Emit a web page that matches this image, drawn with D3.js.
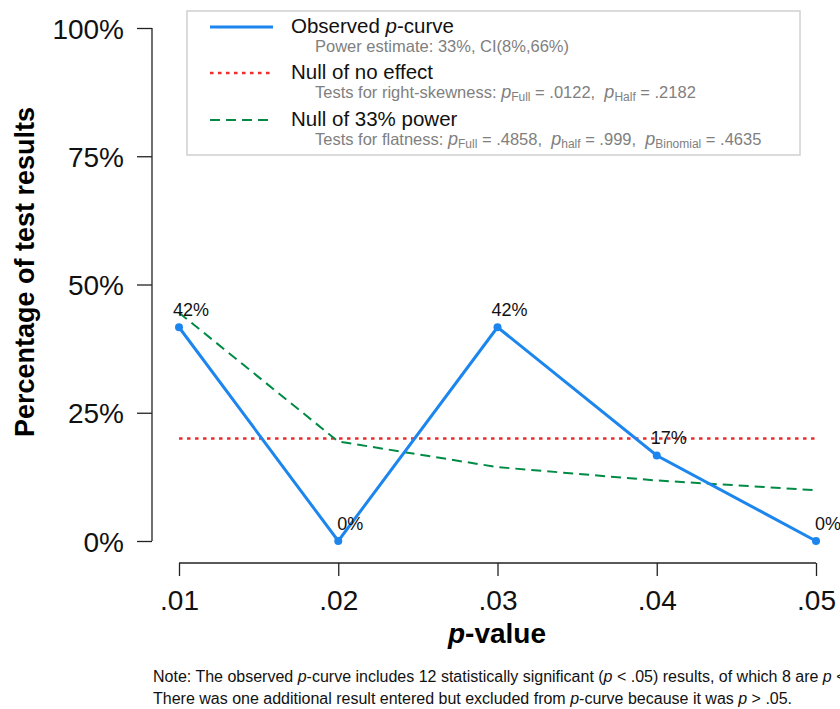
<!DOCTYPE html>
<html>
<head>
<meta charset="utf-8">
<script src="https://cdn.jsdelivr.net/npm/d3@7"></script>
<style>
  body { margin: 0; background: #fff; overflow: hidden; }
  text { font-family: "Liberation Sans", Arial, Helvetica, sans-serif; white-space: pre; }
</style>
</head>
<body>
<div id="chart"></div>
<script>
const width = 840;
const height = 709;

// data
const pValues = [0.01, 0.02, 0.03, 0.04, 0.05];
const pTickLabels = [".01", ".02", ".03", ".04", ".05"];
const observed = [41.67, 0, 41.67, 16.67, 0];
const observedLabels = ["42%", "0%", "42%", "17%", "0%"];
const nullNoEffect = [20, 20, 20, 20, 20];
const null33 = [44.5, 19.4, 14.4, 11.8, 9.9];
const yTicks = [0, 25, 50, 75, 100];

const blue = "#1C86EE";
const red = "#EE2C2C";
const green = "#008B45";

const svg = d3.select("#chart")
  .append("svg")
  .attr("width", width)
  .attr("height", height);

const x = d3.scaleLinear().domain([0.01, 0.05]).range([179, 816]);
const y = d3.scaleLinear().domain([0, 100]).range([541, 28]);

// y axis
const yAxis = svg.append("g")
  .attr("transform", "translate(152,0)")
  .call(d3.axisLeft(y).tickValues(yTicks).tickFormat(d => d + "%").tickSize(15).tickPadding(13));
// x axis
const xAxis = svg.append("g")
  .attr("transform", "translate(0,563)")
  .call(d3.axisBottom(x).tickValues(pValues).tickFormat((d, i) => pTickLabels[i]).tickSize(13).tickPadding(14));

[yAxis, xAxis].forEach(a => {
  a.selectAll("path, line").attr("stroke", "#222").attr("stroke-width", 1.3);
  a.selectAll("text").attr("fill", "#111").style("font-size", "28px");
});
yAxis.select(".domain").attr("d", "M0," + y(100) + "V" + y(0));
xAxis.select(".domain").attr("d", "M" + x(0.01) + ",0H" + x(0.05));
yAxis.selectAll("text").attr("dy", "0.36em");

// axis titles
svg.append("text")
  .attr("transform", "translate(34,272) rotate(-90)")
  .attr("text-anchor", "middle")
  .style("font-size", "27px")
  .style("font-weight", "bold")
  .text("Percentage of test results");

const xt = svg.append("text")
  .attr("x", 497).attr("y", 643)
  .attr("text-anchor", "middle")
  .style("font-size", "28px")
  .style("font-weight", "bold");
xt.append("tspan").style("font-style", "italic").text("p");
xt.append("tspan").text("-value");

// lines
const line = d3.line().x((d, i) => x(pValues[i])).y(d => y(d));

svg.append("path").datum(nullNoEffect)
  .attr("d", line).attr("fill", "none")
  .attr("stroke", red).attr("stroke-width", 2.5)
  .attr("stroke-dasharray", "3.5,4.5");

svg.append("path").datum(null33)
  .attr("d", line).attr("fill", "none")
  .attr("stroke", green).attr("stroke-width", 2)
  .attr("stroke-dasharray", "10,6");

svg.append("path").datum(observed)
  .attr("d", line).attr("fill", "none")
  .attr("stroke", blue).attr("stroke-width", 3);

svg.selectAll(".pt").data(observed).enter()
  .append("circle")
  .attr("cx", (d, i) => x(pValues[i]))
  .attr("cy", d => y(d))
  .attr("r", 4)
  .attr("fill", blue);

svg.selectAll(".lbl").data(observed).enter()
  .append("text")
  .attr("x", (d, i) => x(pValues[i]) + 12)
  .attr("y", d => y(d) - 11)
  .attr("text-anchor", "middle")
  .style("font-size", "18px")
  .attr("fill", "#111")
  .text((d, i) => observedLabels[i]);

// legend
const lg = svg.append("g");
lg.append("rect")
  .attr("x", 187).attr("y", 11).attr("width", 613).attr("height", 144)
  .attr("fill", "#fff").attr("stroke", "#d0d0d0").attr("stroke-width", 1.5);

const legendItems = [
  { title: ["Observed ", ["p", "i"], "-curve"], color: blue, dash: null, w: 3, y: 27,
    sub: [["Power estimate: 33%, CI(8%,66%)"]] },
  { title: ["Null of no effect"], color: red, dash: "3.5,4.5", w: 2.5, y: 73,
    sub: [["Tests for right-skewness: "], ["p", "i"], ["Full", "s"], [" = .0122,  "], ["p", "i"], ["Half", "s"], [" = .2182"]] },
  { title: ["Null of 33% power"], color: green, dash: "10,6", w: 2, y: 120,
    sub: [["Tests for flatness: "], ["p", "i"], ["Full", "s"], [" = .4858,  "], ["p", "i"], ["half", "s"], [" = .999,  "], ["p", "i"], ["Binomial", "s"], [" = .4635"]] }
];

legendItems.forEach(it => {
  lg.append("line")
    .attr("x1", 210).attr("x2", 273).attr("y1", it.y).attr("y2", it.y)
    .attr("stroke", it.color).attr("stroke-width", it.w)
    .attr("stroke-dasharray", it.dash);
  const t = lg.append("text").attr("x", 291).attr("y", it.y + 6)
    .style("font-size", "20.5px").attr("fill", "#111");
  it.title.forEach(part => {
    if (Array.isArray(part)) t.append("tspan").style("font-style", "italic").text(part[0]);
    else t.append("tspan").text(part);
  });
  const s = lg.append("text").attr("x", 315).attr("y", it.y + 25)
    .style("font-size", "16.5px").attr("fill", "#808080");
  it.sub.forEach((part, i) => {
    const sp = s.append("tspan").text(part[0]);
    if (part[1] === "i") sp.style("font-style", "italic").style("font-size", "18px");
    if (part[1] === "s") sp.style("font-size", "12px").attr("dy", 3);
    else if (i > 0 && it.sub[i - 1][1] === "s") sp.attr("dy", -3);
  });
});

// note
const note = svg.append("g").style("font-size", "16px").attr("fill", "#111");
const n1 = note.append("text").attr("x", 153).attr("y", 682);
n1.append("tspan").text("Note: The observed ");
n1.append("tspan").style("font-style", "italic").text("p");
n1.append("tspan").text("-curve includes 12 statistically significant (");
n1.append("tspan").style("font-style", "italic").text("p");
n1.append("tspan").text(" < .05) results, of which 8 are ");
n1.append("tspan").style("font-style", "italic").text("p");
n1.append("tspan").text(" < .025.");
const n2 = note.append("text").attr("x", 153).attr("y", 704);
n2.append("tspan").text("There was one additional result entered but excluded from ");
n2.append("tspan").style("font-style", "italic").text("p");
n2.append("tspan").text("-curve because it was ");
n2.append("tspan").style("font-style", "italic").text("p");
n2.append("tspan").text(" > .05.");
</script>
</body>
</html>
